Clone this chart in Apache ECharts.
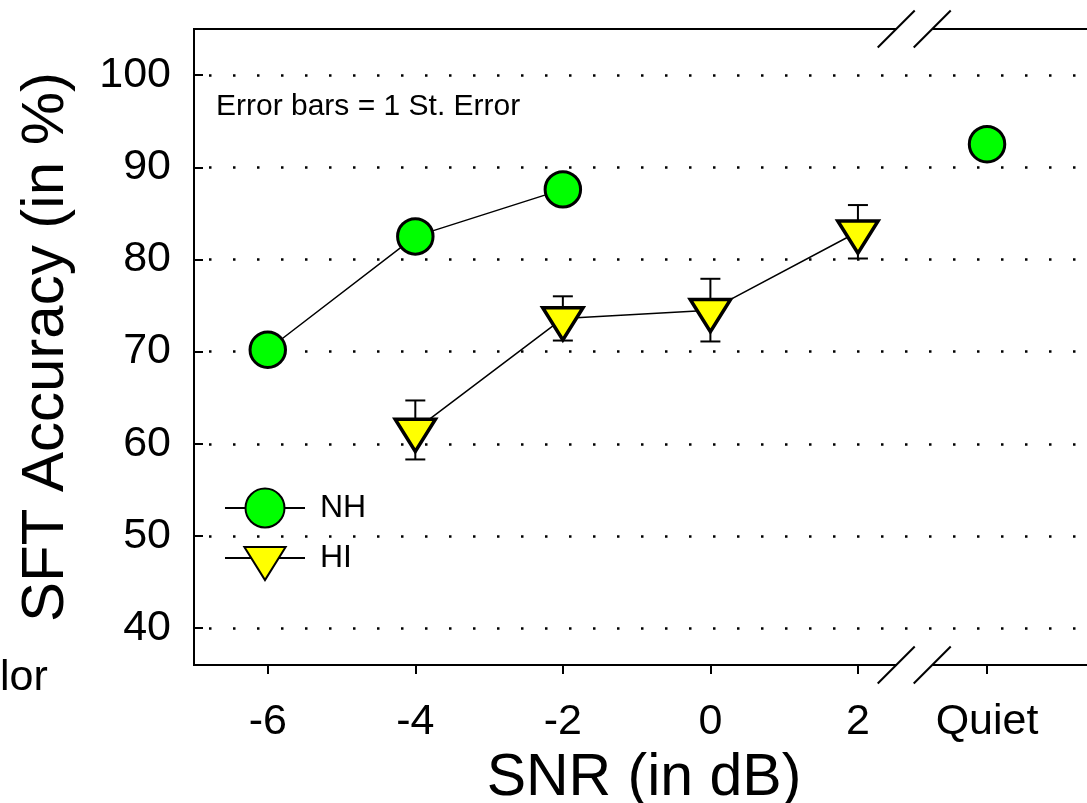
<!DOCTYPE html>
<html>
<head>
<meta charset="utf-8">
<script src="https://cdn.jsdelivr.net/npm/echarts@6/dist/echarts.min.js"></script>
<style>
html,body{margin:0;padding:0;background:#fff;}
#chart{width:1087px;height:803px;}
</style>
</head>
<body>
<div id="chart"></div>
<script>
// ---- data ----
const snrTicks = [-6, -4, -2, 0, 2];
const quietLabel = 'Quiet';
const yTicks = [40, 50, 60, 70, 80, 90, 100];
const nhSNR = [-6, -4, -2];
const nhAcc = [70.2, 82.5, 87.6];
const nhQuietAcc = 92.5;
const hiSNR = [-4, -2, 0, 2];
const hiAcc = [61.5, 73.6, 74.5, 83.0];
const hiErr = [3.2, 2.4, 3.4, 2.9];

// ---- layout constants ----
const QUIET_X = 3.75;   // axis position of the "Quiet" column
const BREAK_X = 2.77;   // axis position of the break marks
const FONT = 'Liberation Sans, Arial, sans-serif';

const chart = echarts.init(document.getElementById('chart'));

const nhData = nhSNR.map((x, i) => [x, nhAcc[i]]);
const hiData = hiSNR.map((x, i) => [x, hiAcc[i]]);
const hiErrData = hiSNR.map((x, i) => [x, hiAcc[i], hiErr[i]]);
const xTickValues = snrTicks.concat([QUIET_X]);

// padded symbol paths (padding keeps legend/plot proportions and centres the triangle on its centroid)
const triPath = 'path://M-1.33,-10.67M41.33,32M0,0L40,0L20,32Z';
const circPath = 'path://M-2.3,-2.3M38.3,38.3M18,0A18,18,0,1,1,18,36A18,18,0,1,1,18,0Z';

function renderErr(params, api) {
  const x = api.value(0), y = api.value(1), e = api.value(2);
  const t = api.coord([x, y + e]);
  const b = api.coord([x, y - e]);
  const hw = 10;
  const st = { stroke: '#000', lineWidth: 2 };
  return {
    type: 'group',
    children: [
      { type: 'line', shape: { x1: t[0], y1: t[1], x2: b[0], y2: b[1] }, style: st },
      { type: 'line', shape: { x1: t[0] - hw, y1: t[1], x2: t[0] + hw, y2: t[1] }, style: st },
      { type: 'line', shape: { x1: b[0] - hw, y1: b[1], x2: b[0] + hw, y2: b[1] }, style: st }
    ]
  };
}

const option = {
  animation: false,
  backgroundColor: '#fff',
  textStyle: { fontFamily: FONT },
  grid: {
    left: 194, top: 29, width: 900, height: 636,
    outerBoundsMode: 'none', containLabel: false,
    show: true, borderColor: '#000', borderWidth: 2, backgroundColor: 'transparent'
  },
  legend: {
    orient: 'vertical', left: 219, top: 480,
    itemWidth: 80, itemHeight: 55, itemGap: 4,
    data: ['NH', 'HI'],
    textStyle: { fontFamily: FONT, fontSize: 32, color: '#000', padding: [0, 0, 0, 10] }
  },
  xAxis: {
    type: 'value', min: -7, max: 5.2,
    name: 'SNR (in dB)', nameLocation: 'middle', nameGap: 71,
    nameTextStyle: { fontFamily: FONT, fontSize: 59, color: '#000' },
    axisLine: { show: true, onZero: false, lineStyle: { color: '#000', width: 2 } },
    axisTick: { show: true, inside: false, length: 9, lineStyle: { color: '#000', width: 2 }, customValues: xTickValues },
    axisLabel: {
      show: true, margin: 36, fontFamily: FONT, fontSize: 43, color: '#000',
      customValues: xTickValues,
      formatter: v => (Math.abs(v - QUIET_X) < 1e-6 ? quietLabel : String(v))
    },
    splitLine: { show: false }
  },
  yAxis: {
    type: 'value', min: 36, max: 105,
    name: 'SFT Accuracy (in %)', nameLocation: 'middle', nameGap: 118,
    nameTextStyle: { fontFamily: FONT, fontSize: 60, color: '#000' },
    axisLine: { show: true, onZero: false, lineStyle: { color: '#000', width: 2 } },
    axisTick: { show: true, inside: true, length: 9, lineStyle: { color: '#000', width: 2 }, customValues: yTicks },
    axisLabel: { show: true, margin: 23, fontFamily: FONT, fontSize: 43, color: '#000', customValues: yTicks },
    splitLine: { show: true, lineStyle: { color: '#000', width: 2.5, type: [2.5, 21.5], dashOffset: 9 } }
  },
  series: [
    {
      name: 'HI-err', type: 'custom', renderItem: renderErr, data: hiErrData, z: 1,
      encode: { x: 0, y: 1 }, silent: true
    },
    {
      name: 'NH', type: 'line', data: nhData, z: 3,
      symbol: circPath, symbolSize: 40,
      lineStyle: { color: '#000', width: 1.5 },
      itemStyle: { color: '#00ff00', borderColor: '#000', borderWidth: 3 }
    },
    {
      name: 'NH', type: 'scatter', data: [[QUIET_X, nhQuietAcc]], z: 3,
      symbol: circPath, symbolSize: 40,
      itemStyle: { color: '#00ff00', borderColor: '#000', borderWidth: 3, opacity: 1 }
    },
    {
      name: 'HI', type: 'line', data: hiData, z: 3,
      symbol: triPath, symbolSize: 43,
      lineStyle: { color: '#000', width: 1.5 },
      itemStyle: { color: '#ffff00', borderColor: '#000', borderWidth: 3.5, borderJoin: 'miter' }
    }
  ]
};

chart.setOption(option);

// break marks and annotation text
const topL = chart.convertToPixel({ gridIndex: 0 }, [BREAK_X, 105]);
const botL = chart.convertToPixel({ gridIndex: 0 }, [BREAK_X, 36]);
function breakMarks(p) {
  const cx = p[0], cy = p[1];
  const st = { stroke: '#000', lineWidth: 2 };
  return [
    { type: 'rect', shape: { x: cx - 18, y: cy - 3, width: 36, height: 6 }, style: { fill: '#fff' }, z: 100 },
    { type: 'line', shape: { x1: cx - 37, y1: cy + 18.5, x2: cx, y2: cy - 18.5 }, style: st, z: 101 },
    { type: 'line', shape: { x1: cx - 1, y1: cy + 18.5, x2: cx + 36, y2: cy - 18.5 }, style: st, z: 101 }
  ];
}
chart.setOption({
  graphic: breakMarks(topL).concat(breakMarks(botL)).concat([
    { type: 'text', left: 216, top: 92, style: { text: 'Error bars = 1 St. Error', font: '30px ' + FONT, fill: '#000' }, z: 50 },
    { type: 'text', left: 0, top: 657, style: { text: 'lor', font: '43px ' + FONT, fill: '#000' }, z: 50 }
  ])
});
</script>
</body>
</html>
